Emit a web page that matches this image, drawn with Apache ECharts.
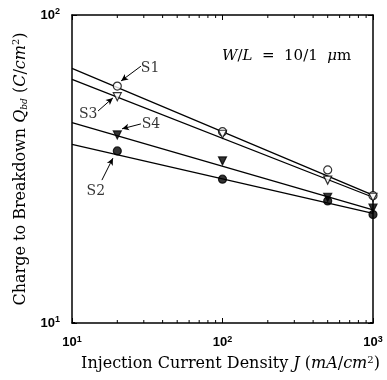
<!DOCTYPE html>
<html>
<head>
<meta charset="utf-8">
<script src="https://cdn.jsdelivr.net/npm/echarts@6/dist/echarts.min.js"></script>
<style>
  html, body { margin: 0; padding: 0; background: #fff; }
  #chart { width: 387px; height: 380px; }
</style>
</head>
<body>
<div id="chart"></div>
<script>
// measured points
const J = [20, 100, 500, 1000];
const S1 = [58.8, 41.8, 31.4, 25.9];
const S3 = [54.3, 41.0, 29.1, 25.6];
const S4 = [40.8, 33.6, 25.6, 23.6];
const S2 = [36.2, 29.3, 24.9, 22.5];

// fitted lines (end points at J = 10 and 1000)
const fitJ = [10, 1000];
const S1fit = [67.1, 26.0];
const S3fit = [61.8, 25.6];
const S4fit = [44.7, 23.3];
const S2fit = [38.0, 22.7];

// sample labels and their pointer arrows
const noteNames = ['S1', 'S3', 'S4', 'S2'];
const notePos = [[33.0, 67.3], [12.8, 47.7], [33.5, 44.3], [14.4, 26.8]];
const arrowFrom = [[28.7, 68.2], [14.9, 48.8], [28.7, 44.3], [15.8, 29.1]];
const arrowTo = [[21.2, 61.1], [18.7, 53.8], [21.5, 42.7], [18.7, 34.3]];

// minor ticks (log 2..9)
const xMinor = [20, 30, 40, 50, 60, 70, 80, 90, 200, 300, 400, 500, 600, 700, 800, 900];
const yMinor = [20, 30, 40, 50, 60, 70, 80, 90];

const serif = '"DejaVu Serif", "Liberation Serif", serif';
const sans = '"Liberation Sans", "DejaVu Sans", sans-serif';

const pair = (xs, ys) => xs.map((x, i) => [x, ys[i]]);
const pow10 = v => {
  const e = Math.round(Math.log10(v));
  return '{b|10}{s|' + e + '}';
};
const powRich = {
  b: { fontFamily: sans, fontWeight: 'bold', fontSize: 13, color: '#000' },
  s: { fontFamily: sans, fontWeight: 'bold', fontSize: 9, color: '#000', verticalAlign: 'top', padding: [0, 0, 6, 0] }
};

const chart = echarts.init(document.getElementById('chart'));

const axisCommon = {
  type: 'log',
  logBase: 10,
  min: 10,
  axisLine: { show: true, onZero: false, lineStyle: { color: '#000', width: 1.5 } },
  axisTick: { show: true, inside: true, length: 5, lineStyle: { color: '#000' } },
  splitLine: { show: false }
};

function minorTicks(dir) {
  return function (params, api) {
    const v = api.value(0);
    const len = 3;
    let a, b;
    if (dir === 'x') {
      a = api.coord([v, 10]);
      b = api.coord([v, 100]);
      return {
        type: 'group',
        children: [
          { type: 'line', shape: { x1: a[0], y1: a[1], x2: a[0], y2: a[1] - len }, style: { stroke: '#000', lineWidth: 1 } },
          { type: 'line', shape: { x1: b[0], y1: b[1], x2: b[0], y2: b[1] + len }, style: { stroke: '#000', lineWidth: 1 } }
        ]
      };
    }
    a = api.coord([10, v]);
    b = api.coord([1000, v]);
    return {
      type: 'group',
      children: [
        { type: 'line', shape: { x1: a[0], y1: a[1], x2: a[0] + len, y2: a[1] }, style: { stroke: '#000', lineWidth: 1 } },
        { type: 'line', shape: { x1: b[0], y1: b[1], x2: b[0] - len, y2: b[1] }, style: { stroke: '#000', lineWidth: 1 } }
      ]
    };
  };
}

function fitSeries(name, ys) {
  return {
    name: name + ' fit',
    type: 'line',
    data: pair(fitJ, ys),
    showSymbol: false,
    silent: true,
    lineStyle: { color: '#000', width: 1.3 },
    z: 2
  };
}

function pointSeries(name, ys, symbol, filled) {
  return {
    name: name,
    type: 'scatter',
    data: pair(J, ys),
    symbol: symbol,
    symbolSize: 8,
    symbolRotate: symbol === 'triangle' ? 180 : 0,
    itemStyle: { color: filled ? '#000' : '#fff', borderColor: '#000', borderWidth: 1.2 },
    z: 4
  };
}

chart.setOption({
  backgroundColor: '#fff',
  animation: false,
  grid: { left: 72, right: 14, top: 15, bottom: 57 },
  xAxis: [
    Object.assign({}, axisCommon, {
      max: 1000,
      position: 'bottom',
      name: 'Injection Current Density {i|J} ({i|mA}/{i|cm}{s|2})',
      nameLocation: 'middle',
      nameGap: 32,
      nameTextStyle: {
        fontFamily: serif, fontSize: 16, color: '#000',
        padding: [0, 0, 0, 16],
        rich: {
          i: { fontFamily: serif, fontStyle: 'italic', fontSize: 16, color: '#000' },
          s: { fontFamily: serif, fontSize: 10, color: '#000', verticalAlign: 'top', padding: [0, 0, 8, 0] }
        }
      },
      axisLabel: { margin: 12, formatter: pow10, rich: powRich }
    }),
    Object.assign({}, axisCommon, {
      max: 1000,
      position: 'top',
      axisLabel: { show: false }
    })
  ],
  yAxis: [
    Object.assign({}, axisCommon, {
      max: 100,
      position: 'left',
      name: 'Charge to Breakdown {i|Q}{u|bd} ({i|C}/{i|cm}{s|2})',
      nameLocation: 'middle',
      nameGap: 42,
      nameTextStyle: {
        fontFamily: serif, fontSize: 16, color: '#000',
        rich: {
          i: { fontFamily: serif, fontStyle: 'italic', fontSize: 16, color: '#000' },
          u: { fontFamily: serif, fontStyle: 'italic', fontSize: 9, color: '#000', verticalAlign: 'bottom', padding: [7, 0, 0, 0] },
          s: { fontFamily: serif, fontSize: 10, color: '#000', verticalAlign: 'top', padding: [0, 0, 8, 0] }
        }
      },
      axisLabel: { margin: 12, formatter: pow10, rich: powRich }
    }),
    Object.assign({}, axisCommon, {
      max: 100,
      position: 'right',
      axisLabel: { show: false }
    })
  ],
  graphic: [{
    type: 'text',
    left: 222,
    top: 49,
    style: {
      text: '{i|W}/{i|L}  =  10/1  {i|μ}m',
      fontFamily: serif,
      fontSize: 15,
      fill: '#000',
      rich: { i: { fontFamily: serif, fontStyle: 'italic', fontSize: 15 } }
    }
  }],
  series: [
    {
      type: 'custom',
      renderItem: minorTicks('x'),
      data: xMinor.map(v => [v, 10]),
      silent: true,
      z: 1
    },
    {
      type: 'custom',
      renderItem: minorTicks('y'),
      data: yMinor.map(v => [10, v]),
      silent: true,
      z: 1
    },
    fitSeries('S1', S1fit),
    fitSeries('S3', S3fit),
    fitSeries('S4', S4fit),
    fitSeries('S2', S2fit),
    pointSeries('S1', S1, 'circle', false),
    pointSeries('S3', S3, 'triangle', false),
    pointSeries('S4', S4, 'triangle', true),
    pointSeries('S2', S2, 'circle', true),
    {
      name: 'notes',
      type: 'scatter',
      symbolSize: 0,
      silent: true,
      data: noteNames.map((n, i) => ({ name: n, value: notePos[i] })),
      label: {
        show: true,
        position: 'inside',
        formatter: p => p.name,
        fontFamily: serif,
        fontSize: 14,
        color: '#000'
      },
      markLine: {
        silent: true,
        symbol: ['none', 'arrow'],
        symbolSize: [5, 7],
        label: { show: false },
        lineStyle: { color: '#000', width: 1, type: 'solid' },
        data: arrowFrom.map((f, i) => [{ coord: f }, { coord: arrowTo[i] }])
      },
      z: 5
    }
  ]
});
</script>
</body>
</html>
